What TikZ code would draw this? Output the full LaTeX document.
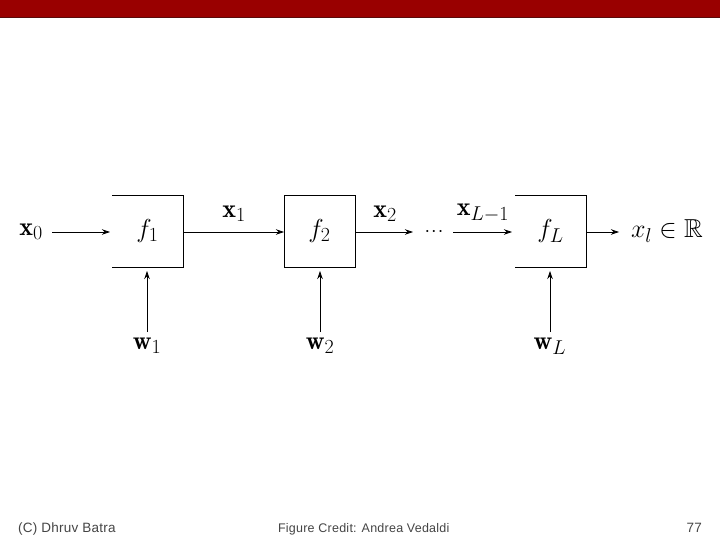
\RequirePackage{fix-cm}
\documentclass[tikz,border=0pt]{standalone}
\usepackage{amssymb}
\usepackage{fontspec}
\newfontfamily\footfont[LetterSpace=2]{Liberation Sans}
\usetikzlibrary{arrows.meta}
\DeclareMathSizes{26}{26}{20}{16}
\definecolor{barred}{HTML}{990000}
\definecolor{bardark}{HTML}{5A0A0A}
\definecolor{foottext}{HTML}{444444}
\begin{document}
\begin{tikzpicture}[x=1pt,y=-1pt,
  every node/.style={inner sep=0pt, outer sep=0pt},
  mathlbl/.style={font=\fontsize{26}{30}\selectfont},
  fbox/.style={minimum width=71pt, minimum height=72pt, font=\fontsize{26}{30}\selectfont},
  boxedge/.style={line width=0.8pt},
  conn/.style={line width=0.8pt, -{Stealth[length=8pt,width=5.5pt,inset=2.5pt]}},
  foot/.style={font=\footfont\fontsize{13.5}{15}\selectfont, text=foottext}]
\useasboundingbox (0,0) rectangle (720,540);
% header bar
\fill[barred] (0,0) rectangle (720,18);
\draw[bardark, line width=1pt] (0,17.5) -- (720,17.5);
% boxes
\node[fbox] (f1) at (147.5,231) {$f_1$};
\node[fbox, draw, boxedge] (f2) at (319.5,231) {$f_2$};
\node[fbox] (fL) at (550.5,231) {$f_L$};
\draw[boxedge] (f1.north west) -- (f1.north east) -- (f1.south east) -- (f1.south west);
\draw[boxedge] (fL.north west) -- (fL.north east) -- (fL.south east) -- (fL.south west);
% labels
\node[mathlbl] (x0) at (31,232) {$\mathbf{x}_0$};
\node[mathlbl] (x1) at (234,214) {$\mathbf{x}_1$};
\node[mathlbl] (x2) at (385,214) {$\mathbf{x}_2$};
\node[mathlbl, font=\fontsize{20}{24}\selectfont] (dots) at (434,232) {$\cdot\!\cdot\!\cdot$};
\node[mathlbl] (xLm) at (483,213) {$\mathbf{x}_{L-1}$};
\node[mathlbl, anchor=west] (out) at (631,231) {$x_l \in \mathbb{R}$};
\node[mathlbl] (w1) at (147,346) {$\mathbf{w}_1$};
\node[mathlbl] (w2) at (320,346) {$\mathbf{w}_2$};
\node[mathlbl] (wL) at (550,346) {$\mathbf{w}_L$};
% connector endpoints
\coordinate (a0) at (52,232);
\coordinate (a0e) at (110,232);
\coordinate (a2e) at (413,232);
\coordinate (a3s) at (453,232);
\coordinate (a3e) at (512,232);
\coordinate (a4e) at (619,232);
% connectors
\draw[conn] (a0) -- (a0e);
\draw[conn] (f1.east |- a0) -- (f2.west |- a0);
\draw[conn] (f2.east |- a0) -- (a2e);
\draw[conn] (a3s) -- (a3e);
\draw[conn] (fL.east |- a0) -- (a4e);
\draw[conn] (147,332) -- (147,271);
\draw[conn] (320,332) -- (320,271);
\draw[conn] (550,332) -- (550,271);
% footer
\node[foot, anchor=base west] (c1) at (18,532) {(C) Dhruv Batra};
\node[foot, anchor=base west, font=\footfont\fontsize{12.5}{14}\selectfont] (c2) at (278,532) {Figure Credit: Andrea Vedaldi};
\node[foot, anchor=base east] (c3) at (702,532) {77};
\end{tikzpicture}
\end{document}
